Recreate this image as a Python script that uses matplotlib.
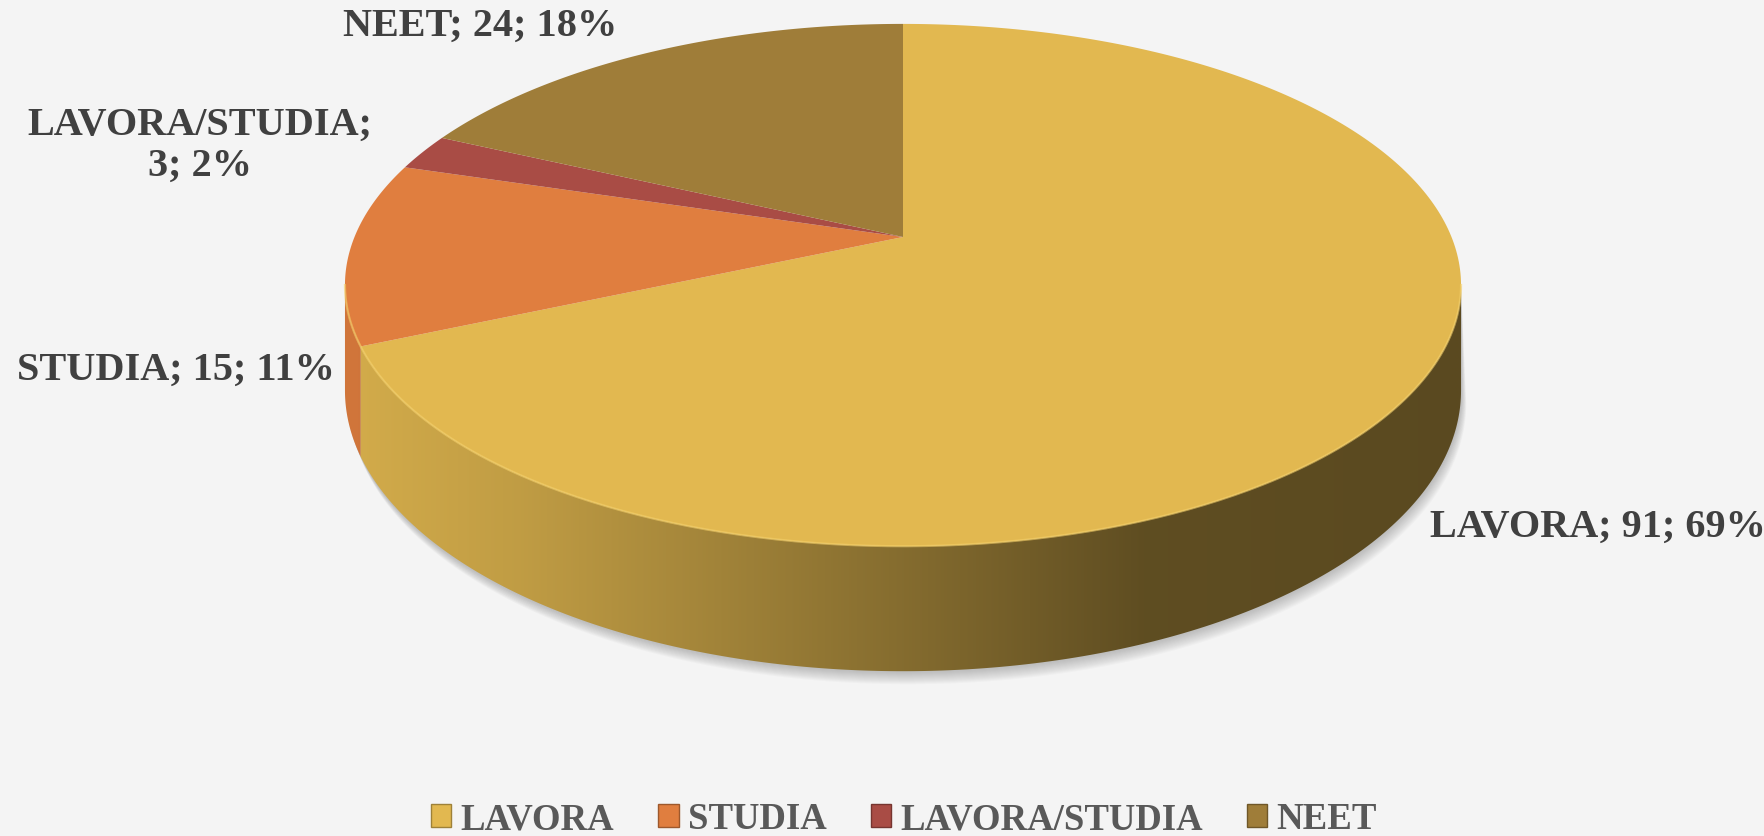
import numpy as np
import matplotlib
matplotlib.use('Agg')
import matplotlib.pyplot as plt
from matplotlib.patches import Polygon, Rectangle
from matplotlib.colors import to_rgb

# data
categories = ['LAVORA', 'STUDIA', 'LAVORA/STUDIA', 'NEET']
values = [91, 15, 3, 24]
pct_labels = [69, 11, 2, 18]   # as printed by the original (sum to 100)

top_colors = ['#e2b850', '#e07e3f', '#a94c45', '#9f7d39']

# layout (figure pixels, y down)
W, H = 1765, 837
CX, CY = 903, 238        # apex of the pie
S, C, K = 548.5, 0.46, 0.184   # size, tilt, perspective
D = 102                  # thickness
label_pos = [(1430, 527, 'left'), (17, 370, 'left'),
             (200, 146, 'center'), (343, 26, 'left')]
FONT = 'Liberation Serif'


def proj(theta, depth=0.0):
    X = np.sin(theta)
    Y = np.cos(theta)
    w = 1 + K * Y
    return CX + S * X / w, CY - S * C * Y / w + D * depth / w


def shade(u):
    # darkening of the rim from left (lit) to right
    return np.interp(u, [0, 0.15, 0.35, 0.55, 0.72, 1.0],
                     [0.93, 0.85, 0.70, 0.55, 0.42, 0.40])


fig = plt.figure(figsize=(W / 100, H / 100), dpi=100, facecolor='#f4f4f4')
ax = fig.add_axes([0, 0, 1, 1])
ax.set_facecolor('#f4f4f4')
ax.axis('off')

total = sum(values)
bounds = np.concatenate([[0], np.cumsum(values)]) / total * 2 * np.pi
vis0 = np.arccos(-K)
vis1 = 2 * np.pi - vis0
xl, _ = proj(-np.pi / 2)
xr, _ = proj(np.pi / 2)

# soft shadow under the pie
tt = np.linspace(vis0, vis1, 200)
for i in range(1, 14):
    bx, by = proj(tt, 1.0)
    tx, ty = proj(tt[::-1], 0.0)
    poly = np.column_stack([np.concatenate([bx + i * 0.4, tx]),
                            np.concatenate([by + i, ty])])
    ax.add_patch(Polygon(poly, closed=True, fc='#707070', ec='none',
                         alpha=0.035, zorder=1))

# rim (side walls)
for i, cat in enumerate(categories):
    a0 = max(bounds[i], vis0)
    a1 = min(bounds[i + 1], vis1)
    if a1 <= a0:
        continue
    t = np.linspace(a0, a1, 200)
    tx, ty = proj(t, 0.0)
    bx, by = proj(t[::-1], 1.0)
    pts = np.column_stack([np.concatenate([tx, bx]), np.concatenate([ty, by])])
    patch = Polygon(pts, closed=True, fc='none', ec='none', zorder=2)
    ax.add_patch(patch)
    x0, x1 = pts[:, 0].min() - 2, pts[:, 0].max() + 2
    y0, y1 = pts[:, 1].min() - 2, pts[:, 1].max() + 2
    xs = np.linspace(x0, x1, 400)
    u = (xs - xl) / (xr - xl)
    base = np.array(to_rgb(top_colors[i]))
    img = np.clip(base[None, :] * shade(u)[:, None], 0, 1)[None, :, :]
    im = ax.imshow(img, extent=(x0, x1, y1, y0), aspect='auto',
                   interpolation='bilinear', zorder=2)
    im.set_clip_path(patch)

# top faces
for i, cat in enumerate(categories):
    t = np.linspace(bounds[i], bounds[i + 1], 300)
    px, py = proj(t)
    pts = np.column_stack([np.concatenate([[CX], px]), np.concatenate([[CY], py])])
    ax.add_patch(Polygon(pts, closed=True, fc=top_colors[i], ec='none', zorder=3))

# light bevel on the front edge
t = np.linspace(vis0, vis1, 300)
px, py = proj(t)
ax.plot(px, py, color='#f5d068', lw=1.6, alpha=0.6, zorder=4)

# data labels
for i, cat in enumerate(categories):
    x, y, ha = label_pos[i]
    if cat == 'LAVORA/STUDIA':
        txt = f'{cat};\n{values[i]}; {pct_labels[i]}%'
    else:
        txt = f'{cat}; {values[i]}; {pct_labels[i]}%'
    ax.text(x, y, txt, ha=ha, va='center', multialignment='center',
            fontsize=29, fontweight='bold', family=FONT, color='#404040',
            linespacing=1.15, zorder=5)

ax.set_xlim(0, W)
ax.set_ylim(H, 0)

handles = [Rectangle((0, 0), 1, 1, fc=c, ec=tuple(np.array(to_rgb(c)) * 0.7), lw=1)
           for c in top_colors]
fig.legend(handles, categories, loc='center', bbox_to_anchor=(904 / W, 1 - 820 / H),
           ncol=4, frameon=False, handlelength=0.55, handleheight=0.55,
           handletextpad=0.25, columnspacing=1.2,
           prop={'family': FONT, 'weight': 'bold', 'size': 26.5},
           labelcolor='#595959')

fig.savefig('out.png', dpi=100, facecolor=fig.get_facecolor())
